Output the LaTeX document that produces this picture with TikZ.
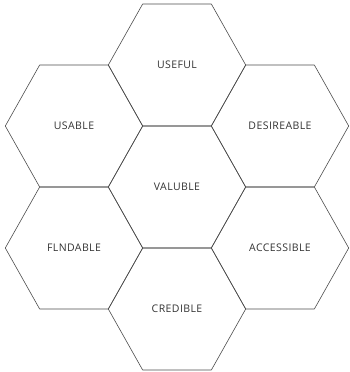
\documentclass[tikz,border=0pt]{standalone}
\usepackage{fontspec}
\setmainfont{Open Sans}[LetterSpace=4]
\usetikzlibrary{positioning}

\begin{document}
\begin{tikzpicture}[
		x=1pt, y=-1pt,
		lbl/.style={inner sep=0pt, text=black!80, font=\fontsize{10.5}{12}\selectfont},
		hexline/.style={draw=black!70, line width=0.6pt, line join=round}
		]
		
		\useasboundingbox (0, 0) rectangle (349, 372);
		
		%Nodes
		\node[lbl]	(useful)		at (177, 65)	{USEFUL};
		\node[lbl]	(usable)		at (74, 126)	{USABLE};
		\node[lbl]	(desireable)	at (280, 126)	{DESIREABLE};
		\node[lbl]	(valuble)		at (177, 187)	{VALUBLE};
		\node[lbl]	(findable)		at (74, 248)	{FLNDABLE};
		\node[lbl]	(accessible)	at (280, 248)	{ACCESSIBLE};
		\node[lbl]	(credible)		at (177, 309)	{CREDIBLE};
		
		%Hexagons
		\foreach \h in {useful, usable, desireable, valuble, findable, accessible, credible}
		\draw[hexline] ([xshift=-68.7pt]\h.center) -- ++(34.35, -61) -- ++(68.7, 0)
			-- ++(34.35, 61) -- ++(-34.35, 61) -- ++(-68.7, 0) -- cycle;
		
	\end{tikzpicture}
\end{document}
